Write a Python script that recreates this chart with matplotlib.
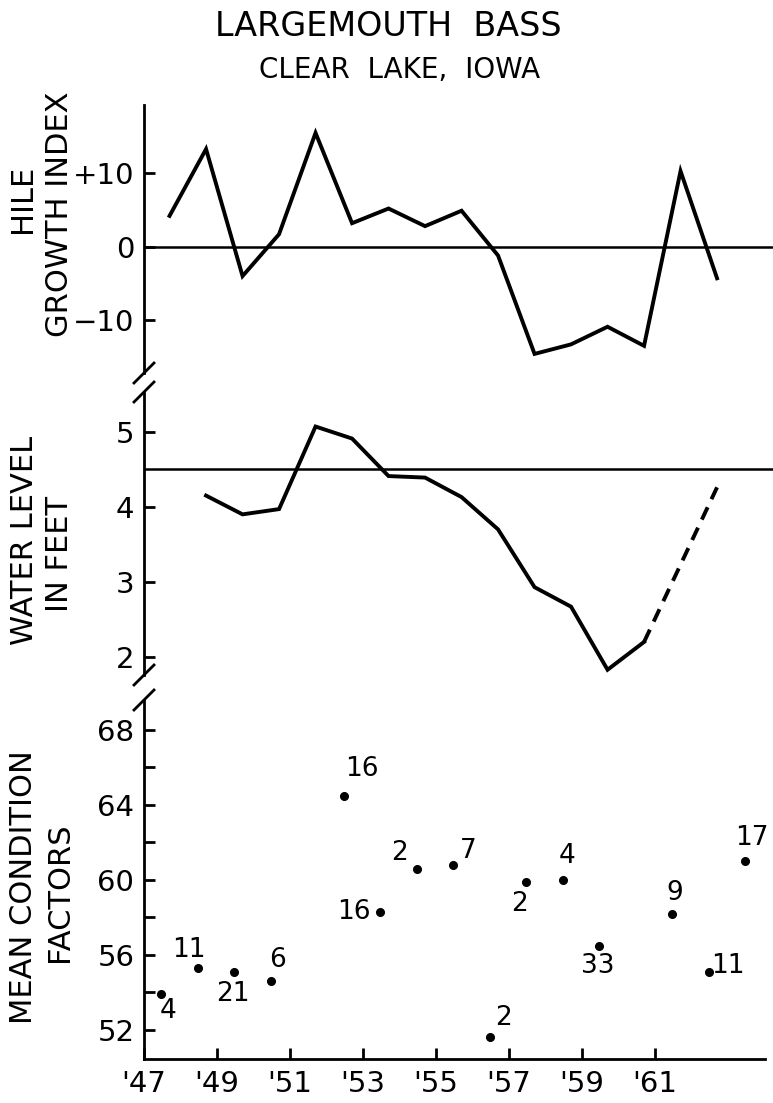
import matplotlib
matplotlib.use("Agg")
import matplotlib.pyplot as plt
from matplotlib.lines import Line2D

# Hile growth index, one value per year
growth_years = [1947, 1948, 1949, 1950, 1951, 1952, 1953, 1954,
                1955, 1956, 1957, 1958, 1959, 1960, 1961, 1962]
growth_index = [4.2, 13.3, -4.0, 1.7, 15.5, 3.2, 5.2, 2.8,
                4.9, -1.2, -14.6, -13.3, -10.9, -13.5, 10.3, -4.3]

# water level (feet); 1961 missing -> dashed bridge to 1962
water_years = [1948, 1949, 1950, 1951, 1952, 1953, 1954,
               1955, 1956, 1957, 1958, 1959, 1960]
water_level = [4.15, 3.90, 3.97, 5.07, 4.91, 4.41, 4.39,
               4.13, 3.70, 2.93, 2.67, 1.83, 2.20]
water_est_years = [1960, 1962]
water_est_level = [2.20, 4.26]
water_ref = 4.5

# mean condition factors with sample sizes
cond_years = [1947, 1948, 1949, 1950, 1952, 1953, 1954, 1955,
              1956, 1957, 1958, 1959, 1961, 1962, 1963]
cond_factor = [53.9, 55.3, 55.1, 54.6, 64.5, 58.3, 60.6, 60.8,
               51.6, 59.9, 60.0, 56.5, 58.2, 55.1, 61.0]
cond_n = ["4", "11", "21", "6", "16", "16", "2", "7",
          "2", "2", "4", "33", "9", "11", "17"]
# label offsets in points (dx, dy)
cond_off = [(5, -12), (-6, 13), (-1, -16), (5, 15), (13, 19), (-19, 0),
            (-12, 11), (11, 10), (10, 14), (-5, -16), (3, 17), (-1, -15),
            (2, 15), (14, 4), (5, 17)]

year_ticks = [1947, 1949, 1951, 1953, 1955, 1957, 1959, 1961]
year_labels = ["'47", "'49", "'51", "'53", "'55", "'57", "'59", "'61"]

W, H = 773, 1103
LW = 2.8
SW = 2.0
plt.rcParams["font.family"] = ["DejaVu Sans"]

fig = plt.figure(figsize=(W / 100, H / 100), dpi=100)


def box(left, top, right, bottom):
    return [left / W, 1 - bottom / H, (right - left) / W, (bottom - top) / H]


ax1 = fig.add_axes(box(144, 105, 773, 373))
ax2 = fig.add_axes(box(144, 392, 773, 675))
ax3 = fig.add_axes(box(144, 700, 773, 1059))

xmax = 1947 + 629 / 36.5
for ax in (ax1, ax2, ax3):
    ax.set_xlim(1947, xmax)
    for s in ("top", "right"):
        ax.spines[s].set_visible(False)
    ax.spines["left"].set_linewidth(SW)
    ax.tick_params(axis="y", direction="in", length=8, width=SW,
                   labelsize=21, pad=7)
    ax.patch.set_visible(False)

for ax in (ax1, ax2):
    ax.spines["bottom"].set_visible(False)
    ax.set_xticks([])

# growth index
ax1.plot([y + 0.7 for y in growth_years], growth_index, color="black",
         lw=LW, solid_joinstyle="miter")
ax1.axhline(0, color="black", lw=1.8)
ax1.set_ylim(-17.2, 19.3)
ax1.set_yticks([-10, 0, 10])
ax1.set_yticklabels(["\u221210", "0", "+10"])

# water level
ax2.plot([y + 0.7 for y in water_years], water_level, color="black",
         lw=LW, solid_joinstyle="miter")
ax2.plot([y + 0.7 for y in water_est_years], water_est_level, color="black",
         lw=LW, dashes=(3.5, 2.3))
ax2.axhline(water_ref, color="black", lw=1.8)
ax2.set_ylim(1.76, 5.53)
ax2.set_yticks([2, 3, 4, 5])

# condition factors
cx = [y + 0.47 for y in cond_years]
ax3.plot(cx, cond_factor, "o", color="black", ms=5.5)
for x, y, n, (dx, dy) in zip(cx, cond_factor, cond_n, cond_off):
    ax3.annotate(n, (x, y), xytext=(dx, dy), textcoords="offset points",
                 ha="center", va="center", fontsize=19)
ax3.set_ylim(50.45, 69.6)
ax3.set_yticks([52, 56, 60, 64, 68])
ax3.set_yticks([54, 58, 62, 66], minor=True)
ax3.tick_params(axis="y", which="minor", direction="in", length=8, width=SW)
ax3.spines["bottom"].set_linewidth(SW)
ax3.spines["bottom"].set_bounds(1947, 1964)
ax3.set_xticks(year_ticks)
ax3.set_xticklabels(year_labels)
ax3.tick_params(axis="x", direction="in", length=8, width=SW,
                labelsize=21, pad=8)

# axis break marks on the left spine
for cy in (373, 392, 675, 700):
    fig.add_artist(Line2D([134 / W, 154 / W], [1 - (cy + 10) / H, 1 - (cy - 10) / H],
                          color="black", lw=SW, transform=fig.transFigure))

# axis titles
lab = dict(rotation=90, ha="center", va="center", fontsize=22)
fig.text(23 / W, 1 - 199 / H, "HILE", **lab)
fig.text(59 / W, 1 - 214 / H, "GROWTH INDEX", **lab)
fig.text(25 / W, 1 - 540 / H, "WATER LEVEL", **lab)
fig.text(60 / W, 1 - 554 / H, "IN FEET", **lab)
fig.text(24 / W, 1 - 887 / H, "MEAN CONDITION", **lab)
fig.text(60 / W, 1 - 892 / H, "FACTORS", **lab)

fig.text(388 / W, 1 - 27 / H, "LARGEMOUTH  BASS", ha="center", va="center",
         fontsize=24)
fig.text(400 / W, 1 - 70 / H, "CLEAR  LAKE,  IOWA", ha="center", va="center",
         fontsize=20)

fig.savefig("out.png", dpi=100)
